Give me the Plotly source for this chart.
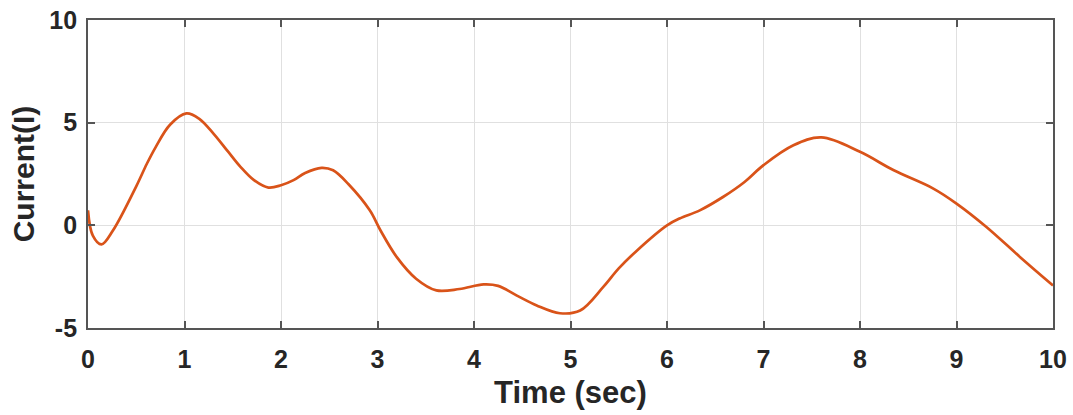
import plotly.graph_objects as go

time_s = [0.0, 0.05, 0.14, 0.26, 0.5, 0.61, 0.7, 0.85, 1.02, 1.15, 1.3, 1.45, 1.58, 1.72, 1.87, 2.0, 2.13, 2.25, 2.42, 2.54,
          2.7, 2.92, 3.03, 3.2, 3.4, 3.61, 3.85, 4.1, 4.25, 4.44, 4.65, 4.89, 5.1, 5.34, 5.5, 5.69,
          6.0, 6.13, 6.34, 6.58, 6.8, 7.0, 7.31, 7.6, 8.0, 8.35, 8.76, 9.0, 9.31, 9.66, 10.0]
current = [0.73, -0.5, -0.93, -0.24, 1.9, 3.0, 3.8, 4.9, 5.45, 5.2, 4.47, 3.6, 2.85, 2.2, 1.84, 1.95, 2.2, 2.55, 2.8, 2.68,
           2.0, 0.73, -0.24, -1.55, -2.6, -3.17, -3.1, -2.88, -2.95, -3.41, -3.9, -4.28, -4.15, -3.0, -2.1, -1.22,
           0.0, 0.33, 0.73, 1.38, 2.1, 2.93, 3.9, 4.28, 3.58, 2.68, 1.79, 1.06, -0.08, -1.55, -2.93]

x_ticks = list(range(0, 11))
y_ticks = [-5, 0, 5, 10]

fig = go.Figure()
fig.add_trace(go.Scatter(x=time_s, y=current, mode="lines",
                         line=dict(color="#D95319", width=2.7, shape="spline", smoothing=1.0)))

axis_common = dict(
    showline=True, linecolor="#555555", linewidth=1.8, mirror="ticks",
    ticks="inside", ticklen=7, tickwidth=1.8, tickcolor="#555555",
    showgrid=True, gridcolor="#E0E0E0", gridwidth=1.2, zeroline=False,
    automargin=False,
    tickfont=dict(family="Liberation Sans, Arial, sans-serif", size=25, color="#262626"),
)

fig.update_layout(
    width=1073, height=415,
    margin=dict(l=88, r=20, t=20, b=87),
    paper_bgcolor="white", plot_bgcolor="white",
    showlegend=False,
    font=dict(family="Liberation Sans, Arial, sans-serif", color="#262626"),
    xaxis=dict(range=[0, 10], tickvals=x_ticks,
               ticktext=[f"<b>{v}</b>" for v in x_ticks],
               ticklabelstandoff=8,
               title=dict(text="<b>Time (sec)</b>", font=dict(size=31), standoff=9),
               **axis_common),
    yaxis=dict(range=[-5, 10], tickvals=y_ticks,
               ticktext=[f"<b>{v}</b>" for v in y_ticks],
               ticklabelstandoff=4,
               title=dict(text="<b>Current(I)</b>", font=dict(size=30), standoff=6),
               **axis_common),
)

fig.write_html("out.html")
